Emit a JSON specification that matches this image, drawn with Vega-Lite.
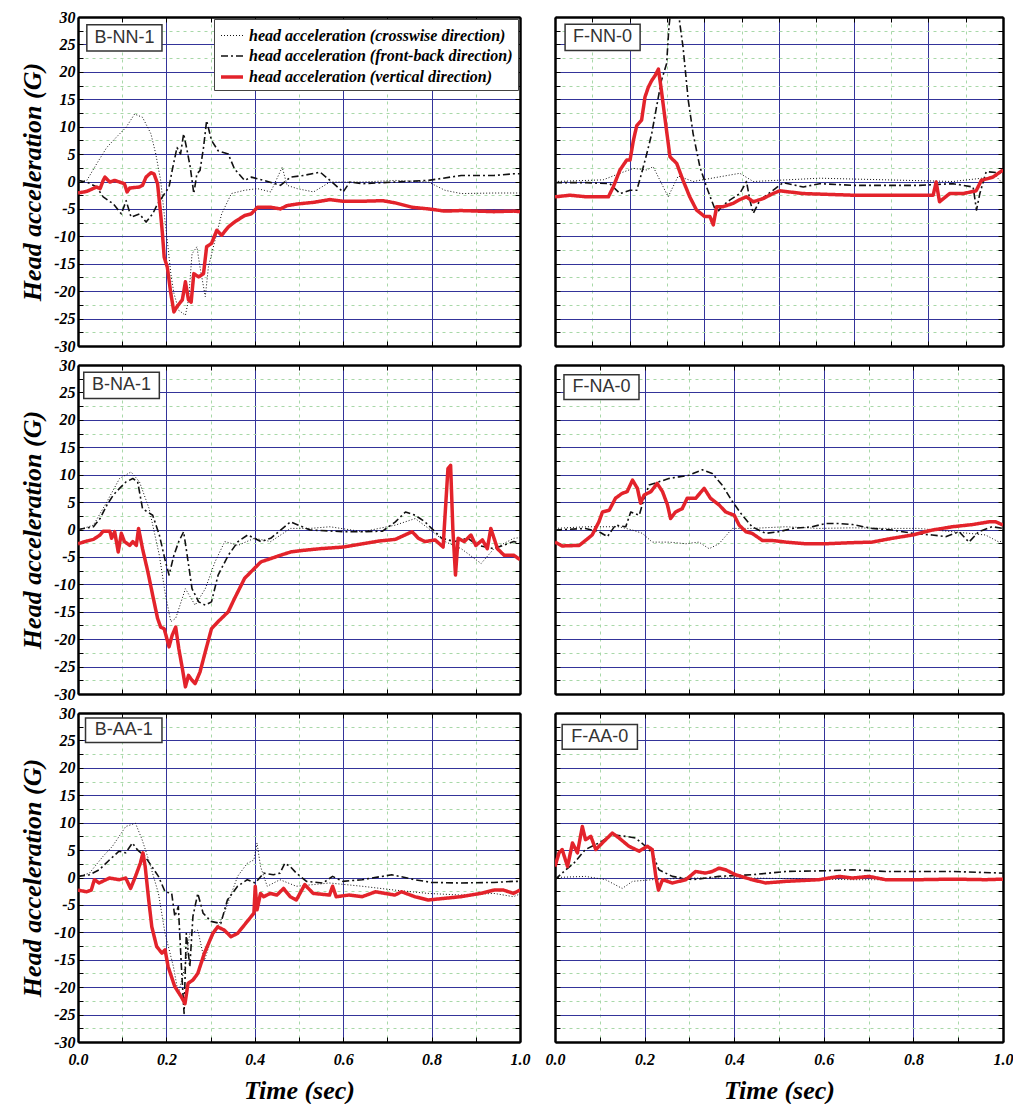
{
"$schema": "https://vega.github.io/schema/vega-lite/v6.json",
"background": "white",
"padding": {"left": 19, "top": 9, "right": 0, "bottom": 2},
"bounds": "flush",
"config": {
  "view": {"stroke": null},
  "font": "Liberation Serif",
  "axis": {"labelFont": "Liberation Serif", "labelFontSize": 16, "labelFontWeight": "bold", "labelFontStyle": "italic", "labelColor": "black",
    "titleFont": "Liberation Serif", "titleFontSize": 26, "titleFontWeight": "bold", "titleFontStyle": "italic", "titleColor": "black",
    "tickColor": "black", "tickSize": -5, "tickWidth": 1, "domainColor": "black", "domainWidth": 2.5,
    "labelFlush": false, "labelOverlap": false, "labelBound": false, "gridWidth": 1}
},
"datasets": {
"BNN1": [
{"s":"c","t":0,"v":-0.1},{"s":"c","t":0.02,"v":0.2},{"s":"c","t":0.042,"v":3.2},{"s":"c","t":0.065,"v":6.2},{"s":"c","t":0.087,"v":8.1},{"s":"c","t":0.109,"v":9.9},{"s":"c","t":0.128,"v":12.3},{"s":"c","t":0.146,"v":11.7},{"s":"c","t":0.165,"v":8.7},{"s":"c","t":0.176,"v":5.0},{"s":"c","t":0.187,"v":0.2},{"s":"c","t":0.195,"v":-5.9},{"s":"c","t":0.202,"v":-10.7},{"s":"c","t":0.21,"v":-16.8},{"s":"c","t":0.217,"v":-20.4},{"s":"c","t":0.228,"v":-23.5},{"s":"c","t":0.243,"v":-24.4},{"s":"c","t":0.25,"v":-21.6},{"s":"c","t":0.258,"v":-13.2},{"s":"c","t":0.269,"v":-11.9},{"s":"c","t":0.276,"v":-15.6},{"s":"c","t":0.288,"v":-21.0},{"s":"c","t":0.295,"v":-15.6},{"s":"c","t":0.31,"v":-10.7},{"s":"c","t":0.325,"v":-5.9},{"s":"c","t":0.347,"v":-2.2},{"s":"c","t":0.377,"v":-1.6},{"s":"c","t":0.406,"v":-1.3},{"s":"c","t":0.436,"v":-1.9},{"s":"c","t":0.462,"v":2.6},{"s":"c","t":0.473,"v":-0.7},{"s":"c","t":0.496,"v":-1.3},{"s":"c","t":0.533,"v":-1.9},{"s":"c","t":0.57,"v":-0.1},{"s":"c","t":0.644,"v":-0.1},{"s":"c","t":0.718,"v":0.2},{"s":"c","t":0.793,"v":-0.1},{"s":"c","t":0.83,"v":-1.6},{"s":"c","t":0.867,"v":-2.2},{"s":"c","t":0.941,"v":-2.1},{"s":"c","t":1.0,"v":-2.1},
{"s":"f","t":0,"v":0.2},{"s":"f","t":0.02,"v":-0.1},{"s":"f","t":0.042,"v":-1.0},{"s":"f","t":0.057,"v":-2.8},{"s":"f","t":0.08,"v":-4.1},{"s":"f","t":0.098,"v":-5.9},{"s":"f","t":0.109,"v":-3.5},{"s":"f","t":0.12,"v":-6.5},{"s":"f","t":0.139,"v":-5.9},{"s":"f","t":0.154,"v":-7.4},{"s":"f","t":0.169,"v":-5.9},{"s":"f","t":0.18,"v":-4.1},{"s":"f","t":0.191,"v":-2.8},{"s":"f","t":0.206,"v":-1.0},{"s":"f","t":0.213,"v":2.0},{"s":"f","t":0.224,"v":6.2},{"s":"f","t":0.232,"v":5.0},{"s":"f","t":0.239,"v":8.7},{"s":"f","t":0.247,"v":5.6},{"s":"f","t":0.254,"v":2.6},{"s":"f","t":0.262,"v":-2.2},{"s":"f","t":0.269,"v":1.4},{"s":"f","t":0.276,"v":2.0},{"s":"f","t":0.284,"v":6.2},{"s":"f","t":0.291,"v":11.1},{"s":"f","t":0.302,"v":7.5},{"s":"f","t":0.317,"v":5.6},{"s":"f","t":0.34,"v":5.0},{"s":"f","t":0.354,"v":2.3},{"s":"f","t":0.377,"v":0.2},{"s":"f","t":0.392,"v":0.8},{"s":"f","t":0.421,"v":0.2},{"s":"f","t":0.458,"v":-0.7},{"s":"f","t":0.481,"v":0.8},{"s":"f","t":0.51,"v":1.1},{"s":"f","t":0.548,"v":1.7},{"s":"f","t":0.57,"v":0.2},{"s":"f","t":0.6,"v":-1.9},{"s":"f","t":0.615,"v":-0.1},{"s":"f","t":0.644,"v":-0.4},{"s":"f","t":0.718,"v":-0.1},{"s":"f","t":0.793,"v":0.2},{"s":"f","t":0.867,"v":1.1},{"s":"f","t":0.941,"v":1.1},{"s":"f","t":0.986,"v":1.4},{"s":"f","t":1.0,"v":1.4},
{"s":"v","t":0,"v":-2.1},{"s":"v","t":0.02,"v":-1.8},{"s":"v","t":0.042,"v":-1.0},{"s":"v","t":0.05,"v":-1.3},{"s":"v","t":0.057,"v":0.2},{"s":"v","t":0.061,"v":0.8},{"s":"v","t":0.072,"v":-0.1},{"s":"v","t":0.083,"v":0.2},{"s":"v","t":0.094,"v":-0.1},{"s":"v","t":0.105,"v":-0.4},{"s":"v","t":0.111,"v":-1.9},{"s":"v","t":0.117,"v":-1.2},{"s":"v","t":0.139,"v":-1.0},{"s":"v","t":0.146,"v":-0.7},{"s":"v","t":0.154,"v":0.8},{"s":"v","t":0.165,"v":1.6},{"s":"v","t":0.172,"v":1.4},{"s":"v","t":0.18,"v":-0.4},{"s":"v","t":0.187,"v":-5.9},{"s":"v","t":0.191,"v":-9.5},{"s":"v","t":0.195,"v":-13.8},{"s":"v","t":0.202,"v":-15.6},{"s":"v","t":0.21,"v":-20.4},{"s":"v","t":0.217,"v":-23.8},{"s":"v","t":0.224,"v":-22.8},{"s":"v","t":0.236,"v":-21.6},{"s":"v","t":0.243,"v":-18.3},{"s":"v","t":0.25,"v":-21.6},{"s":"v","t":0.256,"v":-22.0},{"s":"v","t":0.262,"v":-16.8},{"s":"v","t":0.273,"v":-17.4},{"s":"v","t":0.284,"v":-16.8},{"s":"v","t":0.291,"v":-11.9},{"s":"v","t":0.302,"v":-11.3},{"s":"v","t":0.314,"v":-8.9},{"s":"v","t":0.325,"v":-9.8},{"s":"v","t":0.34,"v":-8.3},{"s":"v","t":0.354,"v":-7.4},{"s":"v","t":0.377,"v":-6.2},{"s":"v","t":0.392,"v":-5.9},{"s":"v","t":0.406,"v":-4.7},{"s":"v","t":0.436,"v":-4.7},{"s":"v","t":0.458,"v":-5.0},{"s":"v","t":0.473,"v":-4.4},{"s":"v","t":0.496,"v":-4.1},{"s":"v","t":0.533,"v":-3.8},{"s":"v","t":0.57,"v":-3.3},{"s":"v","t":0.6,"v":-3.6},{"s":"v","t":0.644,"v":-3.6},{"s":"v","t":0.689,"v":-3.5},{"s":"v","t":0.718,"v":-3.9},{"s":"v","t":0.756,"v":-4.7},{"s":"v","t":0.793,"v":-5.0},{"s":"v","t":0.83,"v":-5.4},{"s":"v","t":0.867,"v":-5.3},{"s":"v","t":0.904,"v":-5.4},{"s":"v","t":0.941,"v":-5.5},{"s":"v","t":0.986,"v":-5.4},{"s":"v","t":1.0,"v":-5.5}
],
"FNN0": [
{"s":"c","t":0,"v":0},{"s":"c","t":0.129,"v":0.3},{"s":"c","t":0.174,"v":1.5},{"s":"c","t":0.21,"v":2.4},{"s":"c","t":0.246,"v":2.1},{"s":"c","t":0.263,"v":2.7},{"s":"c","t":0.29,"v":-1.0},{"s":"c","t":0.303,"v":-2.8},{"s":"c","t":0.33,"v":1.0},{"s":"c","t":0.37,"v":0.0},{"s":"c","t":0.495,"v":1.5},{"s":"c","t":0.531,"v":0.0},{"s":"c","t":0.62,"v":0.3},{"s":"c","t":0.709,"v":0.6},{"s":"c","t":0.888,"v":0.3},{"s":"c","t":1.066,"v":0.0},{"s":"c","t":1.182,"v":0.9},{"s":"c","t":1.2,"v":-0.4},
{"s":"f","t":0,"v":-0.2},{"s":"f","t":0.085,"v":-0.2},{"s":"f","t":0.147,"v":-0.4},{"s":"f","t":0.174,"v":-2.2},{"s":"f","t":0.201,"v":-1.6},{"s":"f","t":0.219,"v":-1.6},{"s":"f","t":0.232,"v":1.5},{"s":"f","t":0.246,"v":5.1},{"s":"f","t":0.259,"v":8.7},{"s":"f","t":0.272,"v":13.6},{"s":"f","t":0.285,"v":18.4},{"s":"f","t":0.299,"v":21.5},{"s":"f","t":0.305,"v":28.0},{"s":"f","t":0.32,"v":38.0},{"s":"f","t":0.334,"v":29.0},{"s":"f","t":0.343,"v":24.5},{"s":"f","t":0.357,"v":14.8},{"s":"f","t":0.37,"v":8.7},{"s":"f","t":0.388,"v":2.7},{"s":"f","t":0.406,"v":-1.0},{"s":"f","t":0.419,"v":-3.4},{"s":"f","t":0.433,"v":-5.8},{"s":"f","t":0.446,"v":-4.6},{"s":"f","t":0.468,"v":-3.4},{"s":"f","t":0.495,"v":-2.2},{"s":"f","t":0.513,"v":0.0},{"s":"f","t":0.522,"v":-3.4},{"s":"f","t":0.531,"v":-5.8},{"s":"f","t":0.549,"v":-3.4},{"s":"f","t":0.584,"v":-1.6},{"s":"f","t":0.611,"v":-0.2},{"s":"f","t":0.665,"v":-1.0},{"s":"f","t":0.709,"v":-0.4},{"s":"f","t":0.798,"v":-0.7},{"s":"f","t":0.888,"v":-0.7},{"s":"f","t":0.977,"v":-0.7},{"s":"f","t":1.066,"v":-0.4},{"s":"f","t":1.12,"v":-1.0},{"s":"f","t":1.129,"v":-5.2},{"s":"f","t":1.138,"v":-2.2},{"s":"f","t":1.155,"v":1.8},{"s":"f","t":1.2,"v":1.5},
{"s":"v","t":0,"v":-2.8},{"s":"v","t":0.04,"v":-2.5},{"s":"v","t":0.085,"v":-2.8},{"s":"v","t":0.143,"v":-2.8},{"s":"v","t":0.156,"v":-1.0},{"s":"v","t":0.174,"v":2.1},{"s":"v","t":0.192,"v":3.9},{"s":"v","t":0.201,"v":3.9},{"s":"v","t":0.21,"v":7.5},{"s":"v","t":0.219,"v":10.2},{"s":"v","t":0.232,"v":11.2},{"s":"v","t":0.241,"v":15.4},{"s":"v","t":0.25,"v":17.2},{"s":"v","t":0.259,"v":18.4},{"s":"v","t":0.268,"v":19.3},{"s":"v","t":0.277,"v":20.5},{"s":"v","t":0.285,"v":16.6},{"s":"v","t":0.294,"v":11.8},{"s":"v","t":0.308,"v":4.5},{"s":"v","t":0.326,"v":3.3},{"s":"v","t":0.343,"v":0.2},{"s":"v","t":0.361,"v":-2.8},{"s":"v","t":0.379,"v":-5.2},{"s":"v","t":0.401,"v":-6.4},{"s":"v","t":0.415,"v":-6.4},{"s":"v","t":0.424,"v":-7.9},{"s":"v","t":0.433,"v":-4.6},{"s":"v","t":0.45,"v":-4.6},{"s":"v","t":0.477,"v":-4.0},{"s":"v","t":0.495,"v":-3.3},{"s":"v","t":0.513,"v":-2.8},{"s":"v","t":0.531,"v":-3.7},{"s":"v","t":0.558,"v":-3.1},{"s":"v","t":0.584,"v":-2.2},{"s":"v","t":0.602,"v":-1.7},{"s":"v","t":0.665,"v":-2.2},{"s":"v","t":0.798,"v":-2.5},{"s":"v","t":0.888,"v":-2.5},{"s":"v","t":1.013,"v":-2.5},{"s":"v","t":1.021,"v":-0.1},{"s":"v","t":1.03,"v":-3.7},{"s":"v","t":1.057,"v":-2.2},{"s":"v","t":1.093,"v":-2.2},{"s":"v","t":1.128,"v":-1.7},{"s":"v","t":1.142,"v":0.2},{"s":"v","t":1.173,"v":0.8},{"s":"v","t":1.2,"v":2.1}
],
"BNA1": [
{"s":"c","t":0,"v":-0.1},{"s":"c","t":0.035,"v":0.8},{"s":"c","t":0.065,"v":5.0},{"s":"c","t":0.094,"v":9.3},{"s":"c","t":0.12,"v":10.5},{"s":"c","t":0.139,"v":8.7},{"s":"c","t":0.161,"v":3.8},{"s":"c","t":0.184,"v":-4.7},{"s":"c","t":0.198,"v":-12.0},{"s":"c","t":0.21,"v":-16.8},{"s":"c","t":0.221,"v":-16.2},{"s":"c","t":0.243,"v":-10.8},{"s":"c","t":0.265,"v":-13.8},{"s":"c","t":0.288,"v":-10.8},{"s":"c","t":0.31,"v":-5.9},{"s":"c","t":0.332,"v":-2.2},{"s":"c","t":0.362,"v":-2.9},{"s":"c","t":0.399,"v":-1.6},{"s":"c","t":0.436,"v":-2.2},{"s":"c","t":0.481,"v":0.2},{"s":"c","t":0.525,"v":0.2},{"s":"c","t":0.57,"v":0.5},{"s":"c","t":0.644,"v":-0.4},{"s":"c","t":0.718,"v":0.8},{"s":"c","t":0.763,"v":2.0},{"s":"c","t":0.793,"v":0.2},{"s":"c","t":0.83,"v":-2.2},{"s":"c","t":0.867,"v":-3.5},{"s":"c","t":0.912,"v":-6.2},{"s":"c","t":0.941,"v":-3.5},{"s":"c","t":0.986,"v":-1.6},{"s":"c","t":1.0,"v":-1.5},
{"s":"f","t":0,"v":0},{"s":"f","t":0.035,"v":0.5},{"s":"f","t":0.05,"v":2.0},{"s":"f","t":0.065,"v":4.4},{"s":"f","t":0.08,"v":6.3},{"s":"f","t":0.094,"v":7.5},{"s":"f","t":0.109,"v":8.7},{"s":"f","t":0.124,"v":9.3},{"s":"f","t":0.135,"v":8.7},{"s":"f","t":0.146,"v":3.8},{"s":"f","t":0.169,"v":2.6},{"s":"f","t":0.184,"v":-1.0},{"s":"f","t":0.198,"v":-5.9},{"s":"f","t":0.206,"v":-8.3},{"s":"f","t":0.217,"v":-4.7},{"s":"f","t":0.228,"v":-2.2},{"s":"f","t":0.239,"v":-0.4},{"s":"f","t":0.247,"v":-4.7},{"s":"f","t":0.258,"v":-10.8},{"s":"f","t":0.273,"v":-13.2},{"s":"f","t":0.288,"v":-13.8},{"s":"f","t":0.302,"v":-13.2},{"s":"f","t":0.317,"v":-8.3},{"s":"f","t":0.34,"v":-4.7},{"s":"f","t":0.362,"v":-2.2},{"s":"f","t":0.384,"v":-1.0},{"s":"f","t":0.414,"v":-2.2},{"s":"f","t":0.436,"v":-1.6},{"s":"f","t":0.481,"v":1.4},{"s":"f","t":0.525,"v":-0.1},{"s":"f","t":0.6,"v":-0.4},{"s":"f","t":0.644,"v":-0.4},{"s":"f","t":0.689,"v":-0.3},{"s":"f","t":0.718,"v":1.4},{"s":"f","t":0.741,"v":3.2},{"s":"f","t":0.763,"v":2.6},{"s":"f","t":0.785,"v":1.4},{"s":"f","t":0.8,"v":0.2},{"s":"f","t":0.823,"v":-1.6},{"s":"f","t":0.852,"v":-2.2},{"s":"f","t":0.882,"v":-1.6},{"s":"f","t":0.904,"v":-2.9},{"s":"f","t":0.941,"v":-3.5},{"s":"f","t":0.986,"v":-2.2},{"s":"f","t":1.0,"v":-2.5},
{"s":"v","t":0,"v":-2.6},{"s":"v","t":0.02,"v":-2.1},{"s":"v","t":0.035,"v":-1.8},{"s":"v","t":0.05,"v":-1.0},{"s":"v","t":0.057,"v":-0.3},{"s":"v","t":0.072,"v":-0.3},{"s":"v","t":0.076,"v":-1.6},{"s":"v","t":0.083,"v":-0.4},{"s":"v","t":0.091,"v":-4.1},{"s":"v","t":0.098,"v":-0.7},{"s":"v","t":0.105,"v":-2.2},{"s":"v","t":0.117,"v":-2.9},{"s":"v","t":0.124,"v":-2.2},{"s":"v","t":0.132,"v":-2.9},{"s":"v","t":0.137,"v":0.2},{"s":"v","t":0.146,"v":-3.5},{"s":"v","t":0.158,"v":-7.7},{"s":"v","t":0.169,"v":-12.0},{"s":"v","t":0.18,"v":-16.2},{"s":"v","t":0.187,"v":-17.8},{"s":"v","t":0.195,"v":-18.1},{"s":"v","t":0.206,"v":-21.4},{"s":"v","t":0.213,"v":-19.3},{"s":"v","t":0.221,"v":-17.8},{"s":"v","t":0.228,"v":-21.7},{"s":"v","t":0.236,"v":-25.3},{"s":"v","t":0.243,"v":-28.7},{"s":"v","t":0.25,"v":-26.6},{"s":"v","t":0.258,"v":-27.5},{"s":"v","t":0.265,"v":-28.1},{"s":"v","t":0.276,"v":-26.0},{"s":"v","t":0.288,"v":-22.3},{"s":"v","t":0.302,"v":-18.1},{"s":"v","t":0.317,"v":-16.8},{"s":"v","t":0.34,"v":-15.0},{"s":"v","t":0.354,"v":-12.6},{"s":"v","t":0.377,"v":-8.9},{"s":"v","t":0.399,"v":-7.1},{"s":"v","t":0.414,"v":-5.9},{"s":"v","t":0.436,"v":-5.3},{"s":"v","t":0.458,"v":-4.7},{"s":"v","t":0.481,"v":-4.1},{"s":"v","t":0.51,"v":-3.8},{"s":"v","t":0.548,"v":-3.5},{"s":"v","t":0.6,"v":-3.2},{"s":"v","t":0.644,"v":-2.6},{"s":"v","t":0.681,"v":-2.1},{"s":"v","t":0.718,"v":-1.8},{"s":"v","t":0.756,"v":-0.4},{"s":"v","t":0.77,"v":-1.6},{"s":"v","t":0.785,"v":-2.2},{"s":"v","t":0.808,"v":-1.9},{"s":"v","t":0.826,"v":-3.2},{"s":"v","t":0.837,"v":11.1},{"s":"v","t":0.843,"v":11.7},{"s":"v","t":0.848,"v":0.2},{"s":"v","t":0.854,"v":-8.3},{"s":"v","t":0.86,"v":-1.6},{"s":"v","t":0.874,"v":-2.2},{"s":"v","t":0.889,"v":-1.0},{"s":"v","t":0.9,"v":-2.9},{"s":"v","t":0.915,"v":-1.9},{"s":"v","t":0.926,"v":-3.5},{"s":"v","t":0.934,"v":0.2},{"s":"v","t":0.949,"v":-3.5},{"s":"v","t":0.964,"v":-4.7},{"s":"v","t":0.986,"v":-4.7},{"s":"v","t":1.0,"v":-5.5}
],
"FNA0": [
{"s":"c","t":0,"v":0.2},{"s":"c","t":0.068,"v":0.5},{"s":"c","t":0.106,"v":0.5},{"s":"c","t":0.143,"v":0.5},{"s":"c","t":0.173,"v":-0.1},{"s":"c","t":0.195,"v":-0.7},{"s":"c","t":0.217,"v":-2.3},{"s":"c","t":0.254,"v":-2.3},{"s":"c","t":0.292,"v":-2.6},{"s":"c","t":0.321,"v":-2.3},{"s":"c","t":0.344,"v":-3.5},{"s":"c","t":0.366,"v":-2.6},{"s":"c","t":0.396,"v":0.2},{"s":"c","t":0.44,"v":0.2},{"s":"c","t":0.515,"v":0.5},{"s":"c","t":0.589,"v":0.2},{"s":"c","t":0.664,"v":0.3},{"s":"c","t":0.738,"v":0.2},{"s":"c","t":0.812,"v":0.2},{"s":"c","t":0.887,"v":-0.4},{"s":"c","t":0.961,"v":-1.0},{"s":"c","t":0.991,"v":-2.3},{"s":"c","t":1.0,"v":-2.0},
{"s":"f","t":0,"v":-0.1},{"s":"f","t":0.068,"v":0.2},{"s":"f","t":0.098,"v":-0.4},{"s":"f","t":0.117,"v":-1.3},{"s":"f","t":0.135,"v":0.8},{"s":"f","t":0.158,"v":0.5},{"s":"f","t":0.169,"v":3.2},{"s":"f","t":0.188,"v":2.6},{"s":"f","t":0.199,"v":5.7},{"s":"f","t":0.21,"v":8.1},{"s":"f","t":0.232,"v":8.7},{"s":"f","t":0.254,"v":9.3},{"s":"f","t":0.277,"v":9.6},{"s":"f","t":0.299,"v":9.9},{"s":"f","t":0.329,"v":10.9},{"s":"f","t":0.351,"v":10.2},{"s":"f","t":0.373,"v":8.1},{"s":"f","t":0.396,"v":5.1},{"s":"f","t":0.418,"v":2.6},{"s":"f","t":0.44,"v":0.5},{"s":"f","t":0.47,"v":-0.7},{"s":"f","t":0.5,"v":-0.4},{"s":"f","t":0.53,"v":0.2},{"s":"f","t":0.574,"v":0.5},{"s":"f","t":0.604,"v":1.1},{"s":"f","t":0.634,"v":1.1},{"s":"f","t":0.664,"v":0.9},{"s":"f","t":0.708,"v":0.2},{"s":"f","t":0.753,"v":-0.1},{"s":"f","t":0.798,"v":-0.7},{"s":"f","t":0.842,"v":-1.0},{"s":"f","t":0.872,"v":-1.3},{"s":"f","t":0.902,"v":-0.4},{"s":"f","t":0.924,"v":-2.3},{"s":"f","t":0.946,"v":-0.4},{"s":"f","t":0.976,"v":0.5},{"s":"f","t":1.0,"v":0.2},
{"s":"v","t":0,"v":-2.3},{"s":"v","t":0.016,"v":-3.0},{"s":"v","t":0.054,"v":-2.9},{"s":"v","t":0.068,"v":-2.0},{"s":"v","t":0.083,"v":-1.0},{"s":"v","t":0.098,"v":1.4},{"s":"v","t":0.106,"v":3.2},{"s":"v","t":0.121,"v":3.5},{"s":"v","t":0.135,"v":5.7},{"s":"v","t":0.15,"v":6.6},{"s":"v","t":0.161,"v":6.9},{"s":"v","t":0.173,"v":9.0},{"s":"v","t":0.184,"v":7.5},{"s":"v","t":0.191,"v":4.8},{"s":"v","t":0.199,"v":6.3},{"s":"v","t":0.214,"v":6.9},{"s":"v","t":0.228,"v":8.4},{"s":"v","t":0.24,"v":6.9},{"s":"v","t":0.251,"v":4.5},{"s":"v","t":0.258,"v":2.0},{"s":"v","t":0.269,"v":3.2},{"s":"v","t":0.284,"v":3.8},{"s":"v","t":0.295,"v":5.7},{"s":"v","t":0.314,"v":5.7},{"s":"v","t":0.333,"v":7.5},{"s":"v","t":0.347,"v":5.7},{"s":"v","t":0.366,"v":4.5},{"s":"v","t":0.381,"v":3.2},{"s":"v","t":0.4,"v":2.6},{"s":"v","t":0.411,"v":0.8},{"s":"v","t":0.426,"v":-0.4},{"s":"v","t":0.44,"v":-0.7},{"s":"v","t":0.463,"v":-2.0},{"s":"v","t":0.485,"v":-2.0},{"s":"v","t":0.515,"v":-2.3},{"s":"v","t":0.56,"v":-2.6},{"s":"v","t":0.604,"v":-2.6},{"s":"v","t":0.664,"v":-2.4},{"s":"v","t":0.708,"v":-2.3},{"s":"v","t":0.753,"v":-1.6},{"s":"v","t":0.798,"v":-1.0},{"s":"v","t":0.842,"v":-0.1},{"s":"v","t":0.887,"v":0.5},{"s":"v","t":0.932,"v":0.9},{"s":"v","t":0.969,"v":1.4},{"s":"v","t":0.984,"v":1.4},{"s":"v","t":1.0,"v":0.8}
],
"BAA1": [
{"s":"c","t":0,"v":0.2},{"s":"c","t":0.026,"v":0.8},{"s":"c","t":0.056,"v":3.8},{"s":"c","t":0.078,"v":5.7},{"s":"c","t":0.108,"v":9.3},{"s":"c","t":0.13,"v":9.9},{"s":"c","t":0.145,"v":6.9},{"s":"c","t":0.16,"v":3.2},{"s":"c","t":0.182,"v":-2.9},{"s":"c","t":0.197,"v":-10.2},{"s":"c","t":0.216,"v":-16.3},{"s":"c","t":0.227,"v":-21.2},{"s":"c","t":0.242,"v":-16.3},{"s":"c","t":0.253,"v":-10.2},{"s":"c","t":0.271,"v":-9.6},{"s":"c","t":0.286,"v":-15.1},{"s":"c","t":0.301,"v":-11.4},{"s":"c","t":0.331,"v":-6.5},{"s":"c","t":0.361,"v":0.2},{"s":"c","t":0.383,"v":2.6},{"s":"c","t":0.398,"v":3.2},{"s":"c","t":0.405,"v":6.3},{"s":"c","t":0.413,"v":2.0},{"s":"c","t":0.428,"v":-1.6},{"s":"c","t":0.457,"v":-0.4},{"s":"c","t":0.494,"v":-1.6},{"s":"c","t":0.569,"v":-1.0},{"s":"c","t":0.643,"v":-1.6},{"s":"c","t":0.717,"v":-2.3},{"s":"c","t":0.792,"v":-2.9},{"s":"c","t":0.866,"v":-3.2},{"s":"c","t":0.941,"v":-2.9},{"s":"c","t":0.985,"v":-3.5},{"s":"c","t":1.0,"v":-3.0},
{"s":"f","t":0,"v":0.2},{"s":"f","t":0.026,"v":0.5},{"s":"f","t":0.048,"v":1.4},{"s":"f","t":0.071,"v":3.2},{"s":"f","t":0.093,"v":4.8},{"s":"f","t":0.108,"v":4.5},{"s":"f","t":0.123,"v":6.3},{"s":"f","t":0.134,"v":5.1},{"s":"f","t":0.152,"v":3.8},{"s":"f","t":0.167,"v":2.0},{"s":"f","t":0.182,"v":0.2},{"s":"f","t":0.197,"v":-2.6},{"s":"f","t":0.212,"v":-2.9},{"s":"f","t":0.219,"v":-7.1},{"s":"f","t":0.227,"v":-5.3},{"s":"f","t":0.234,"v":-16.3},{"s":"f","t":0.24,"v":-24.8},{"s":"f","t":0.245,"v":-10.2},{"s":"f","t":0.253,"v":-16.3},{"s":"f","t":0.26,"v":-7.1},{"s":"f","t":0.271,"v":-2.9},{"s":"f","t":0.283,"v":-6.5},{"s":"f","t":0.301,"v":-8.0},{"s":"f","t":0.323,"v":-8.4},{"s":"f","t":0.338,"v":-4.1},{"s":"f","t":0.361,"v":-1.6},{"s":"f","t":0.383,"v":-0.4},{"s":"f","t":0.401,"v":-1.0},{"s":"f","t":0.42,"v":0.8},{"s":"f","t":0.442,"v":0.5},{"s":"f","t":0.457,"v":0.8},{"s":"f","t":0.468,"v":2.6},{"s":"f","t":0.48,"v":2.0},{"s":"f","t":0.494,"v":0.8},{"s":"f","t":0.517,"v":-0.7},{"s":"f","t":0.554,"v":-1.0},{"s":"f","t":0.576,"v":0.2},{"s":"f","t":0.599,"v":-0.7},{"s":"f","t":0.643,"v":-0.4},{"s":"f","t":0.71,"v":0.5},{"s":"f","t":0.762,"v":-0.4},{"s":"f","t":0.799,"v":-0.9},{"s":"f","t":0.866,"v":-1.0},{"s":"f","t":0.941,"v":-0.9},{"s":"f","t":0.985,"v":-0.7},{"s":"f","t":1.0,"v":-0.7},
{"s":"v","t":0,"v":-2.3},{"s":"v","t":0.019,"v":-2.6},{"s":"v","t":0.03,"v":-2.3},{"s":"v","t":0.037,"v":-0.4},{"s":"v","t":0.048,"v":-1.0},{"s":"v","t":0.071,"v":-0.1},{"s":"v","t":0.093,"v":-0.4},{"s":"v","t":0.108,"v":-0.1},{"s":"v","t":0.119,"v":-2.0},{"s":"v","t":0.13,"v":0.2},{"s":"v","t":0.141,"v":2.6},{"s":"v","t":0.147,"v":4.5},{"s":"v","t":0.152,"v":2.0},{"s":"v","t":0.16,"v":-4.1},{"s":"v","t":0.167,"v":-9.0},{"s":"v","t":0.178,"v":-12.6},{"s":"v","t":0.19,"v":-13.8},{"s":"v","t":0.197,"v":-13.2},{"s":"v","t":0.204,"v":-16.3},{"s":"v","t":0.219,"v":-19.9},{"s":"v","t":0.234,"v":-21.8},{"s":"v","t":0.242,"v":-23.0},{"s":"v","t":0.249,"v":-19.3},{"s":"v","t":0.26,"v":-18.7},{"s":"v","t":0.271,"v":-17.5},{"s":"v","t":0.286,"v":-13.8},{"s":"v","t":0.305,"v":-10.2},{"s":"v","t":0.316,"v":-9.0},{"s":"v","t":0.331,"v":-9.6},{"s":"v","t":0.346,"v":-10.8},{"s":"v","t":0.361,"v":-10.2},{"s":"v","t":0.379,"v":-8.4},{"s":"v","t":0.398,"v":-6.5},{"s":"v","t":0.401,"v":-1.6},{"s":"v","t":0.405,"v":-5.9},{"s":"v","t":0.413,"v":-2.9},{"s":"v","t":0.42,"v":-3.5},{"s":"v","t":0.435,"v":-2.9},{"s":"v","t":0.45,"v":-3.2},{"s":"v","t":0.465,"v":-2.0},{"s":"v","t":0.48,"v":-3.5},{"s":"v","t":0.494,"v":-4.1},{"s":"v","t":0.513,"v":-1.3},{"s":"v","t":0.532,"v":-2.9},{"s":"v","t":0.569,"v":-3.2},{"s":"v","t":0.576,"v":-1.6},{"s":"v","t":0.584,"v":-3.5},{"s":"v","t":0.613,"v":-3.2},{"s":"v","t":0.643,"v":-3.5},{"s":"v","t":0.673,"v":-2.6},{"s":"v","t":0.717,"v":-3.2},{"s":"v","t":0.732,"v":-2.6},{"s":"v","t":0.762,"v":-3.5},{"s":"v","t":0.792,"v":-4.1},{"s":"v","t":0.829,"v":-3.8},{"s":"v","t":0.866,"v":-3.5},{"s":"v","t":0.911,"v":-2.9},{"s":"v","t":0.941,"v":-2.3},{"s":"v","t":0.963,"v":-2.3},{"s":"v","t":0.985,"v":-2.9},{"s":"v","t":1.0,"v":-2.3}
],
"FAA0": [
{"s":"c","t":0,"v":0},{"s":"c","t":0.068,"v":0.2},{"s":"c","t":0.113,"v":-0.4},{"s":"c","t":0.15,"v":-2.0},{"s":"c","t":0.173,"v":-0.7},{"s":"c","t":0.217,"v":-0.4},{"s":"c","t":0.292,"v":-0.1},{"s":"c","t":0.44,"v":-0.1},{"s":"c","t":0.664,"v":-0.4},{"s":"c","t":0.887,"v":-0.4},{"s":"c","t":1.0,"v":-0.4},
{"s":"f","t":0,"v":-0.4},{"s":"f","t":0.024,"v":1.4},{"s":"f","t":0.042,"v":2.6},{"s":"f","t":0.068,"v":5.1},{"s":"f","t":0.098,"v":6.3},{"s":"f","t":0.128,"v":7.8},{"s":"f","t":0.158,"v":7.5},{"s":"f","t":0.18,"v":7.2},{"s":"f","t":0.202,"v":5.7},{"s":"f","t":0.217,"v":4.5},{"s":"f","t":0.232,"v":1.4},{"s":"f","t":0.247,"v":0.8},{"s":"f","t":0.262,"v":0.2},{"s":"f","t":0.307,"v":-0.4},{"s":"f","t":0.366,"v":0.2},{"s":"f","t":0.44,"v":0.5},{"s":"f","t":0.515,"v":1.1},{"s":"f","t":0.589,"v":1.2},{"s":"f","t":0.664,"v":1.4},{"s":"f","t":0.738,"v":1.1},{"s":"f","t":0.813,"v":1.1},{"s":"f","t":0.887,"v":1.1},{"s":"f","t":1.0,"v":0.8},
{"s":"v","t":0,"v":2.0},{"s":"v","t":0.009,"v":4.5},{"s":"v","t":0.016,"v":5.1},{"s":"v","t":0.028,"v":2.0},{"s":"v","t":0.039,"v":6.3},{"s":"v","t":0.05,"v":4.5},{"s":"v","t":0.061,"v":9.3},{"s":"v","t":0.068,"v":6.9},{"s":"v","t":0.08,"v":7.5},{"s":"v","t":0.091,"v":5.1},{"s":"v","t":0.113,"v":6.9},{"s":"v","t":0.128,"v":8.1},{"s":"v","t":0.143,"v":7.2},{"s":"v","t":0.165,"v":5.7},{"s":"v","t":0.188,"v":4.8},{"s":"v","t":0.206,"v":5.7},{"s":"v","t":0.217,"v":5.1},{"s":"v","t":0.225,"v":0.2},{"s":"v","t":0.231,"v":-2.3},{"s":"v","t":0.24,"v":-0.4},{"s":"v","t":0.262,"v":-1.0},{"s":"v","t":0.292,"v":-0.4},{"s":"v","t":0.314,"v":1.1},{"s":"v","t":0.336,"v":0.8},{"s":"v","t":0.351,"v":1.1},{"s":"v","t":0.366,"v":1.7},{"s":"v","t":0.381,"v":1.4},{"s":"v","t":0.403,"v":0.5},{"s":"v","t":0.44,"v":-0.4},{"s":"v","t":0.47,"v":-1.0},{"s":"v","t":0.515,"v":-0.7},{"s":"v","t":0.589,"v":-0.4},{"s":"v","t":0.634,"v":0.2},{"s":"v","t":0.664,"v":-0.1},{"s":"v","t":0.701,"v":0.2},{"s":"v","t":0.738,"v":-0.4},{"s":"v","t":0.813,"v":-0.4},{"s":"v","t":0.887,"v":-0.3},{"s":"v","t":0.961,"v":-0.4},{"s":"v","t":1.0,"v":-0.3}
]
},
"resolve": {"scale": {"color": "independent", "strokeDash": "independent", "strokeWidth": "independent"}},
"columns": 2,
"spacing": {"row": 19, "column": 35},
"concat": [
{
 "width": 442, "height": 329,
 "resolve": {"axis": {"x": "independent", "y": "independent"}},
 "layer": [
  {"data": {"name": "BNN1"},
   "mark": {"type": "line", "clip": true, "strokeJoin": "round"},
   "encoding": {
    "x": {"field": "t", "type": "quantitative", "scale": {"domain": [0, 1], "nice": false, "zero": false},
      "axis": {"orient": "bottom", "values": [0,0.1,0.2,0.3,0.4,0.5,0.6,0.7,0.8,0.9,1], "labels": false, "title": null, "grid": true,
        "gridColor": {"condition": {"test": "round(datum.value*10)%2===0", "value": "#34349a"}, "value": "#a8d8a8"},
        "gridDash": {"condition": {"test": "round(datum.value*10)%2===0", "value": []}, "value": [3, 4]}}},
    "y": {"field": "v", "type": "quantitative", "scale": {"domain": [-30, 30], "nice": false, "zero": false},
      "axis": {"orient": "left", "values": [-30,-27.5,-25,-22.5,-20,-17.5,-15,-12.5,-10,-7.5,-5,-2.5,0,2.5,5,7.5,10,12.5,15,17.5,20,22.5,25,27.5,30],
        "labelExpr": "datum.value%5===0 ? ''+datum.value : ''", "labelPadding": 8, "title": "Head acceleration (G)", "titlePadding": 8, "grid": true,
        "labelFont": "Liberation Serif", "labelFontSize": 16, "labelFontWeight": "bold", "labelFontStyle": "italic",
        "titleFont": "Liberation Serif", "titleFontSize": 26, "titleFontWeight": "bold", "titleFontStyle": "italic",
        "gridColor": {"condition": {"test": "datum.value%5===0", "value": "#34349a"}, "value": "#a8d8a8"},
        "gridDash": {"condition": {"test": "datum.value%5===0", "value": []}, "value": [3, 4]}}},
    "color": {"field": "s", "type": "nominal", "scale": {"domain": ["c","f","v"], "range": ["#111111","#111111","#e3232b"]},
      "legend": {"orient": "top-right", "offset": 2, "title": null, "symbolType": "stroke", "symbolSize": 484, "labelFont": "Liberation Serif", "labelFontStyle": "italic", "labelFontWeight": "bold", "labelFontSize": 16, "labelColor": "black", "labelLimit": 400, "padding": 5, "rowPadding": 0, "strokeColor": "#444444", "fillColor": "white",
        "labelExpr": "datum.label=='c' ? 'head acceleration (crosswise direction)' : datum.label=='f' ? 'head acceleration (front-back direction)' : 'head acceleration (vertical direction)'"}},
    "strokeDash": {"field": "s", "type": "nominal", "scale": {"domain": ["c","f","v"], "range": [[1,2],[7,3,2,3],[1,0]]},
      "legend": {"orient": "top-right", "offset": 2, "title": null, "symbolType": "stroke", "symbolSize": 484, "labelFont": "Liberation Serif", "labelFontStyle": "italic", "labelFontWeight": "bold", "labelFontSize": 16, "labelColor": "black", "labelLimit": 400, "padding": 5, "rowPadding": 0, "strokeColor": "#444444", "fillColor": "white",
        "labelExpr": "datum.label=='c' ? 'head acceleration (crosswise direction)' : datum.label=='f' ? 'head acceleration (front-back direction)' : 'head acceleration (vertical direction)'"}},
    "strokeWidth": {"field": "s", "type": "nominal", "scale": {"type": "ordinal", "domain": ["c","f","v"], "range": [1,1.6,3.5]},
      "legend": {"orient": "top-right", "offset": 2, "title": null, "symbolType": "stroke", "symbolSize": 484, "labelFont": "Liberation Serif", "labelFontStyle": "italic", "labelFontWeight": "bold", "labelFontSize": 16, "labelColor": "black", "labelLimit": 400, "padding": 5, "rowPadding": 0, "strokeColor": "#444444", "fillColor": "white",
        "labelExpr": "datum.label=='c' ? 'head acceleration (crosswise direction)' : datum.label=='f' ? 'head acceleration (front-back direction)' : 'head acceleration (vertical direction)'"}}
   }},
  {"data": {"values": [{"label": "B-NN-1"}]},
   "mark": {"type": "rect", "fill": "white", "stroke": "#333333", "strokeWidth": 1.5},
   "encoding": {
    "x": {"datum": 0.02, "type": "quantitative", "scale": {"domain": [0, 1], "nice": false, "zero": false},
      "axis": {"orient": "top", "values": [0,0.1,0.2,0.3,0.4,0.5,0.6,0.7,0.8,0.9,1], "labels": false, "grid": false, "title": null}},
    "x2": {"datum": 0.19},
    "y": {"datum": 28.6, "type": "quantitative", "scale": {"domain": [-30, 30], "nice": false, "zero": false},
      "axis": {"orient": "right", "values": [-30,-27.5,-25,-22.5,-20,-17.5,-15,-12.5,-10,-7.5,-5,-2.5,0,2.5,5,7.5,10,12.5,15,17.5,20,22.5,25,27.5,30], "labels": false, "grid": false, "title": null}},
    "y2": {"datum": 23.8}
   }},
  {"data": {"values": [{"label": "B-NN-1"}]},
   "mark": {"type": "text", "font": "Liberation Sans", "fontSize": 18, "color": "#333333"},
   "encoding": {
    "x": {"datum": 0.105, "type": "quantitative", "axis": null},
    "y": {"datum": 26.2, "type": "quantitative", "axis": null},
    "text": {"field": "label"}
   }}
 ]
},
{
 "width": 448, "height": 329,
 "resolve": {"axis": {"x": "independent", "y": "independent"}},
 "layer": [
  {"data": {"name": "FNN0"},
   "mark": {"type": "line", "clip": true, "strokeJoin": "round"},
   "encoding": {
    "x": {"field": "t", "type": "quantitative", "scale": {"domain": [0, 1.2], "nice": false, "zero": false},
      "axis": {"orient": "bottom", "values": [0,0.1,0.2,0.3,0.4,0.5,0.6,0.7,0.8,0.9,1,1.1,1.2], "labels": false, "title": null, "grid": true,
        "gridColor": {"condition": {"test": "round(datum.value*10)%2===0", "value": "#34349a"}, "value": "#a8d8a8"},
        "gridDash": {"condition": {"test": "round(datum.value*10)%2===0", "value": []}, "value": [3, 4]}}},
    "y": {"field": "v", "type": "quantitative", "scale": {"domain": [-30, 30], "nice": false, "zero": false},
      "axis": {"orient": "left", "values": [-30,-27.5,-25,-22.5,-20,-17.5,-15,-12.5,-10,-7.5,-5,-2.5,0,2.5,5,7.5,10,12.5,15,17.5,20,22.5,25,27.5,30],
        "labels": false, "title": null, "grid": true,
        "gridColor": {"condition": {"test": "datum.value%5===0", "value": "#34349a"}, "value": "#a8d8a8"},
        "gridDash": {"condition": {"test": "datum.value%5===0", "value": []}, "value": [3, 4]}}},
    "color": {"field": "s", "type": "nominal", "scale": {"domain": ["c","f","v"], "range": ["#111111","#111111","#e3232b"]}, "legend": null},
    "strokeDash": {"field": "s", "type": "nominal", "scale": {"domain": ["c","f","v"], "range": [[1,2],[7,3,2,3],[1,0]]}, "legend": null},
    "strokeWidth": {"field": "s", "type": "nominal", "scale": {"type": "ordinal", "domain": ["c","f","v"], "range": [1,1.6,3.5]}, "legend": null}
   }},
  {"data": {"values": [{"label": "F-NN-0"}]},
   "mark": {"type": "rect", "fill": "white", "stroke": "#333333", "strokeWidth": 1.5},
   "encoding": {
    "x": {"datum": 0.027, "type": "quantitative", "scale": {"domain": [0, 1.2], "nice": false, "zero": false},
      "axis": {"orient": "top", "values": [0,0.1,0.2,0.3,0.4,0.5,0.6,0.7,0.8,0.9,1,1.1,1.2], "labels": false, "grid": false, "title": null}},
    "x2": {"datum": 0.228},
    "y": {"datum": 28.7, "type": "quantitative", "scale": {"domain": [-30, 30], "nice": false, "zero": false},
      "axis": {"orient": "right", "values": [-30,-27.5,-25,-22.5,-20,-17.5,-15,-12.5,-10,-7.5,-5,-2.5,0,2.5,5,7.5,10,12.5,15,17.5,20,22.5,25,27.5,30], "labels": false, "grid": false, "title": null}},
    "y2": {"datum": 23.9}
   }},
  {"data": {"values": [{"label": "F-NN-0"}]},
   "mark": {"type": "text", "font": "Liberation Sans", "fontSize": 18, "color": "#333333"},
   "encoding": {
    "x": {"datum": 0.1275, "type": "quantitative", "axis": null},
    "y": {"datum": 26.3, "type": "quantitative", "axis": null},
    "text": {"field": "label"}
   }}
 ]
},
{
 "width": 442, "height": 329,
 "resolve": {"axis": {"x": "independent", "y": "independent"}},
 "layer": [
  {"data": {"name": "BNA1"},
   "mark": {"type": "line", "clip": true, "strokeJoin": "round"},
   "encoding": {
    "x": {"field": "t", "type": "quantitative", "scale": {"domain": [0, 1], "nice": false, "zero": false},
      "axis": {"orient": "bottom", "values": [0,0.1,0.2,0.3,0.4,0.5,0.6,0.7,0.8,0.9,1], "labels": false, "title": null, "grid": true,
        "gridColor": {"condition": {"test": "round(datum.value*10)%2===0", "value": "#34349a"}, "value": "#a8d8a8"},
        "gridDash": {"condition": {"test": "round(datum.value*10)%2===0", "value": []}, "value": [3, 4]}}},
    "y": {"field": "v", "type": "quantitative", "scale": {"domain": [-30, 30], "nice": false, "zero": false},
      "axis": {"orient": "left", "values": [-30,-27.5,-25,-22.5,-20,-17.5,-15,-12.5,-10,-7.5,-5,-2.5,0,2.5,5,7.5,10,12.5,15,17.5,20,22.5,25,27.5,30],
        "labelExpr": "datum.value%5===0 ? ''+datum.value : ''", "labelPadding": 8, "title": "Head acceleration (G)", "titlePadding": 8, "grid": true,
        "labelFont": "Liberation Serif", "labelFontSize": 16, "labelFontWeight": "bold", "labelFontStyle": "italic",
        "titleFont": "Liberation Serif", "titleFontSize": 26, "titleFontWeight": "bold", "titleFontStyle": "italic",
        "gridColor": {"condition": {"test": "datum.value%5===0", "value": "#34349a"}, "value": "#a8d8a8"},
        "gridDash": {"condition": {"test": "datum.value%5===0", "value": []}, "value": [3, 4]}}},
    "color": {"field": "s", "type": "nominal", "scale": {"domain": ["c","f","v"], "range": ["#111111","#111111","#e3232b"]}, "legend": null},
    "strokeDash": {"field": "s", "type": "nominal", "scale": {"domain": ["c","f","v"], "range": [[1,2],[7,3,2,3],[1,0]]}, "legend": null},
    "strokeWidth": {"field": "s", "type": "nominal", "scale": {"type": "ordinal", "domain": ["c","f","v"], "range": [1,1.6,3.5]}, "legend": null}
   }},
  {"data": {"values": [{"label": "B-NA-1"}]},
   "mark": {"type": "rect", "fill": "white", "stroke": "#333333", "strokeWidth": 1.5},
   "encoding": {
    "x": {"datum": 0.013, "type": "quantitative", "scale": {"domain": [0, 1], "nice": false, "zero": false},
      "axis": {"orient": "top", "values": [0,0.1,0.2,0.3,0.4,0.5,0.6,0.7,0.8,0.9,1], "labels": false, "grid": false, "title": null}},
    "x2": {"datum": 0.184},
    "y": {"datum": 28.7, "type": "quantitative", "scale": {"domain": [-30, 30], "nice": false, "zero": false},
      "axis": {"orient": "right", "values": [-30,-27.5,-25,-22.5,-20,-17.5,-15,-12.5,-10,-7.5,-5,-2.5,0,2.5,5,7.5,10,12.5,15,17.5,20,22.5,25,27.5,30], "labels": false, "grid": false, "title": null}},
    "y2": {"datum": 23.9}
   }},
  {"data": {"values": [{"label": "B-NA-1"}]},
   "mark": {"type": "text", "font": "Liberation Sans", "fontSize": 18, "color": "#333333"},
   "encoding": {
    "x": {"datum": 0.0985, "type": "quantitative", "axis": null},
    "y": {"datum": 26.3, "type": "quantitative", "axis": null},
    "text": {"field": "label"}
   }}
 ]
},
{
 "width": 448, "height": 329,
 "resolve": {"axis": {"x": "independent", "y": "independent"}},
 "layer": [
  {"data": {"name": "FNA0"},
   "mark": {"type": "line", "clip": true, "strokeJoin": "round"},
   "encoding": {
    "x": {"field": "t", "type": "quantitative", "scale": {"domain": [0, 1], "nice": false, "zero": false},
      "axis": {"orient": "bottom", "values": [0,0.1,0.2,0.3,0.4,0.5,0.6,0.7,0.8,0.9,1], "labels": false, "title": null, "grid": true,
        "gridColor": {"condition": {"test": "round(datum.value*10)%2===0", "value": "#34349a"}, "value": "#a8d8a8"},
        "gridDash": {"condition": {"test": "round(datum.value*10)%2===0", "value": []}, "value": [3, 4]}}},
    "y": {"field": "v", "type": "quantitative", "scale": {"domain": [-30, 30], "nice": false, "zero": false},
      "axis": {"orient": "left", "values": [-30,-27.5,-25,-22.5,-20,-17.5,-15,-12.5,-10,-7.5,-5,-2.5,0,2.5,5,7.5,10,12.5,15,17.5,20,22.5,25,27.5,30],
        "labels": false, "title": null, "grid": true,
        "gridColor": {"condition": {"test": "datum.value%5===0", "value": "#34349a"}, "value": "#a8d8a8"},
        "gridDash": {"condition": {"test": "datum.value%5===0", "value": []}, "value": [3, 4]}}},
    "color": {"field": "s", "type": "nominal", "scale": {"domain": ["c","f","v"], "range": ["#111111","#111111","#e3232b"]}, "legend": null},
    "strokeDash": {"field": "s", "type": "nominal", "scale": {"domain": ["c","f","v"], "range": [[1,2],[7,3,2,3],[1,0]]}, "legend": null},
    "strokeWidth": {"field": "s", "type": "nominal", "scale": {"type": "ordinal", "domain": ["c","f","v"], "range": [1,1.6,3.5]}, "legend": null}
   }},
  {"data": {"values": [{"label": "F-NA-0"}]},
   "mark": {"type": "rect", "fill": "white", "stroke": "#333333", "strokeWidth": 1.5},
   "encoding": {
    "x": {"datum": 0.02, "type": "quantitative", "scale": {"domain": [0, 1], "nice": false, "zero": false},
      "axis": {"orient": "top", "values": [0,0.1,0.2,0.3,0.4,0.5,0.6,0.7,0.8,0.9,1], "labels": false, "grid": false, "title": null}},
    "x2": {"datum": 0.1875},
    "y": {"datum": 28.2, "type": "quantitative", "scale": {"domain": [-30, 30], "nice": false, "zero": false},
      "axis": {"orient": "right", "values": [-30,-27.5,-25,-22.5,-20,-17.5,-15,-12.5,-10,-7.5,-5,-2.5,0,2.5,5,7.5,10,12.5,15,17.5,20,22.5,25,27.5,30], "labels": false, "grid": false, "title": null}},
    "y2": {"datum": 23.7}
   }},
  {"data": {"values": [{"label": "F-NA-0"}]},
   "mark": {"type": "text", "font": "Liberation Sans", "fontSize": 18, "color": "#333333"},
   "encoding": {
    "x": {"datum": 0.104, "type": "quantitative", "axis": null},
    "y": {"datum": 25.95, "type": "quantitative", "axis": null},
    "text": {"field": "label"}
   }}
 ]
},
{
 "width": 442, "height": 329,
 "resolve": {"axis": {"x": "independent", "y": "independent"}},
 "layer": [
  {"data": {"name": "BAA1"},
   "mark": {"type": "line", "clip": true, "strokeJoin": "round"},
   "encoding": {
    "x": {"field": "t", "type": "quantitative", "scale": {"domain": [0, 1], "nice": false, "zero": false},
      "axis": {"orient": "bottom", "values": [0,0.1,0.2,0.3,0.4,0.5,0.6,0.7,0.8,0.9,1],
        "labelExpr": "round(datum.value*10)%2===0 ? format(datum.value,'.1f') : ''", "labelPadding": 14, "title": "Time (sec)", "titlePadding": 10, "grid": true,
        "labelFont": "Liberation Serif", "labelFontSize": 16, "labelFontWeight": "bold", "labelFontStyle": "italic",
        "titleFont": "Liberation Serif", "titleFontSize": 26, "titleFontWeight": "bold", "titleFontStyle": "italic",
        "gridColor": {"condition": {"test": "round(datum.value*10)%2===0", "value": "#34349a"}, "value": "#a8d8a8"},
        "gridDash": {"condition": {"test": "round(datum.value*10)%2===0", "value": []}, "value": [3, 4]}}},
    "y": {"field": "v", "type": "quantitative", "scale": {"domain": [-30, 30], "nice": false, "zero": false},
      "axis": {"orient": "left", "values": [-30,-27.5,-25,-22.5,-20,-17.5,-15,-12.5,-10,-7.5,-5,-2.5,0,2.5,5,7.5,10,12.5,15,17.5,20,22.5,25,27.5,30],
        "labelExpr": "datum.value%5===0 ? ''+datum.value : ''", "labelPadding": 8, "title": "Head acceleration (G)", "titlePadding": 8, "grid": true,
        "labelFont": "Liberation Serif", "labelFontSize": 16, "labelFontWeight": "bold", "labelFontStyle": "italic",
        "titleFont": "Liberation Serif", "titleFontSize": 26, "titleFontWeight": "bold", "titleFontStyle": "italic",
        "gridColor": {"condition": {"test": "datum.value%5===0", "value": "#34349a"}, "value": "#a8d8a8"},
        "gridDash": {"condition": {"test": "datum.value%5===0", "value": []}, "value": [3, 4]}}},
    "color": {"field": "s", "type": "nominal", "scale": {"domain": ["c","f","v"], "range": ["#111111","#111111","#e3232b"]}, "legend": null},
    "strokeDash": {"field": "s", "type": "nominal", "scale": {"domain": ["c","f","v"], "range": [[1,2],[7,3,2,3],[1,0]]}, "legend": null},
    "strokeWidth": {"field": "s", "type": "nominal", "scale": {"type": "ordinal", "domain": ["c","f","v"], "range": [1,1.6,3.5]}, "legend": null}
   }},
  {"data": {"values": [{"label": "B-AA-1"}]},
   "mark": {"type": "rect", "fill": "white", "stroke": "#333333", "strokeWidth": 1.5},
   "encoding": {
    "x": {"datum": 0.017, "type": "quantitative", "scale": {"domain": [0, 1], "nice": false, "zero": false},
      "axis": {"orient": "top", "values": [0,0.1,0.2,0.3,0.4,0.5,0.6,0.7,0.8,0.9,1], "labels": false, "grid": false, "title": null}},
    "x2": {"datum": 0.19},
    "y": {"datum": 29.1, "type": "quantitative", "scale": {"domain": [-30, 30], "nice": false, "zero": false},
      "axis": {"orient": "right", "values": [-30,-27.5,-25,-22.5,-20,-17.5,-15,-12.5,-10,-7.5,-5,-2.5,0,2.5,5,7.5,10,12.5,15,17.5,20,22.5,25,27.5,30], "labels": false, "grid": false, "title": null}},
    "y2": {"datum": 24.6}
   }},
  {"data": {"values": [{"label": "B-AA-1"}]},
   "mark": {"type": "text", "font": "Liberation Sans", "fontSize": 18, "color": "#333333"},
   "encoding": {
    "x": {"datum": 0.1035, "type": "quantitative", "axis": null},
    "y": {"datum": 26.85, "type": "quantitative", "axis": null},
    "text": {"field": "label"}
   }}
 ]
},
{
 "width": 448, "height": 329,
 "resolve": {"axis": {"x": "independent", "y": "independent"}},
 "layer": [
  {"data": {"name": "FAA0"},
   "mark": {"type": "line", "clip": true, "strokeJoin": "round"},
   "encoding": {
    "x": {"field": "t", "type": "quantitative", "scale": {"domain": [0, 1], "nice": false, "zero": false},
      "axis": {"orient": "bottom", "values": [0,0.1,0.2,0.3,0.4,0.5,0.6,0.7,0.8,0.9,1],
        "labelExpr": "round(datum.value*10)%2===0 ? format(datum.value,'.1f') : ''", "labelPadding": 14, "title": "Time (sec)", "titlePadding": 10, "grid": true,
        "labelFont": "Liberation Serif", "labelFontSize": 16, "labelFontWeight": "bold", "labelFontStyle": "italic",
        "titleFont": "Liberation Serif", "titleFontSize": 26, "titleFontWeight": "bold", "titleFontStyle": "italic",
        "gridColor": {"condition": {"test": "round(datum.value*10)%2===0", "value": "#34349a"}, "value": "#a8d8a8"},
        "gridDash": {"condition": {"test": "round(datum.value*10)%2===0", "value": []}, "value": [3, 4]}}},
    "y": {"field": "v", "type": "quantitative", "scale": {"domain": [-30, 30], "nice": false, "zero": false},
      "axis": {"orient": "left", "values": [-30,-27.5,-25,-22.5,-20,-17.5,-15,-12.5,-10,-7.5,-5,-2.5,0,2.5,5,7.5,10,12.5,15,17.5,20,22.5,25,27.5,30],
        "labels": false, "title": null, "grid": true,
        "gridColor": {"condition": {"test": "datum.value%5===0", "value": "#34349a"}, "value": "#a8d8a8"},
        "gridDash": {"condition": {"test": "datum.value%5===0", "value": []}, "value": [3, 4]}}},
    "color": {"field": "s", "type": "nominal", "scale": {"domain": ["c","f","v"], "range": ["#111111","#111111","#e3232b"]}, "legend": null},
    "strokeDash": {"field": "s", "type": "nominal", "scale": {"domain": ["c","f","v"], "range": [[1,2],[7,3,2,3],[1,0]]}, "legend": null},
    "strokeWidth": {"field": "s", "type": "nominal", "scale": {"type": "ordinal", "domain": ["c","f","v"], "range": [1,1.6,3.5]}, "legend": null}
   }},
  {"data": {"values": [{"label": "F-AA-0"}]},
   "mark": {"type": "rect", "fill": "white", "stroke": "#333333", "strokeWidth": 1.5},
   "encoding": {
    "x": {"datum": 0.016, "type": "quantitative", "scale": {"domain": [0, 1], "nice": false, "zero": false},
      "axis": {"orient": "top", "values": [0,0.1,0.2,0.3,0.4,0.5,0.6,0.7,0.8,0.9,1], "labels": false, "grid": false, "title": null}},
    "x2": {"datum": 0.184},
    "y": {"datum": 27.9, "type": "quantitative", "scale": {"domain": [-30, 30], "nice": false, "zero": false},
      "axis": {"orient": "right", "values": [-30,-27.5,-25,-22.5,-20,-17.5,-15,-12.5,-10,-7.5,-5,-2.5,0,2.5,5,7.5,10,12.5,15,17.5,20,22.5,25,27.5,30], "labels": false, "grid": false, "title": null}},
    "y2": {"datum": 23.4}
   }},
  {"data": {"values": [{"label": "F-AA-0"}]},
   "mark": {"type": "text", "font": "Liberation Sans", "fontSize": 18, "color": "#333333"},
   "encoding": {
    "x": {"datum": 0.1, "type": "quantitative", "axis": null},
    "y": {"datum": 25.65, "type": "quantitative", "axis": null},
    "text": {"field": "label"}
   }}
 ]
}
]
}
